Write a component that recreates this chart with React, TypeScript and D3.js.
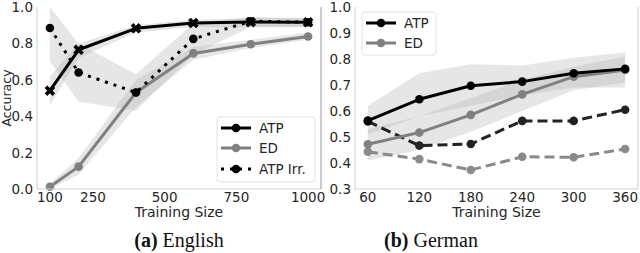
import React from "react";
import * as d3 from "d3";

// English panel data
const enX = [100, 200, 400, 600, 800, 1000];
const enATP = [0.54, 0.765, 0.883, 0.912, 0.917, 0.916];
const enATPLo = [0.46, 0.72, 0.86, 0.89, 0.89, 0.89];
const enATPHi = [0.62, 0.8, 0.9, 0.93, 0.94, 0.94];
const enED = [0.012, 0.123, 0.53, 0.745, 0.795, 0.838];
const enEDLo = [0.0, 0.08, 0.45, 0.71, 0.775, 0.82];
const enEDHi = [0.03, 0.17, 0.6, 0.78, 0.82, 0.86];
const enIrr = [0.885, 0.64, 0.53, 0.825, 0.922, 0.916];
const enIrrLo = [0.7, 0.48, 0.43, 0.74, 0.89, 0.89];
const enIrrHi = [1.0, 0.8, 0.63, 0.91, 0.945, 0.94];
const enXTicks = [100, 250, 500, 750, 1000];
const enYTicks = [0.0, 0.2, 0.4, 0.6, 0.8, 1.0];

// German panel data
const deX = [60, 120, 180, 240, 300, 360];
const deATP = [0.563, 0.645, 0.697, 0.713, 0.745, 0.762];
const deATPLo = [0.51, 0.58, 0.62, 0.66, 0.69, 0.69];
const deATPHi = [0.62, 0.745, 0.78, 0.775, 0.805, 0.825];
const deED = [0.472, 0.517, 0.585, 0.664, 0.732, 0.758];
const deEDLo = [0.41, 0.45, 0.52, 0.6, 0.68, 0.71];
const deEDHi = [0.53, 0.58, 0.65, 0.72, 0.77, 0.81];
const deATPIrr = [0.56, 0.467, 0.473, 0.562, 0.562, 0.605];
const deEDIrr = [0.443, 0.415, 0.373, 0.424, 0.422, 0.454];
const deXTicks = [60, 120, 180, 240, 300, 360];
const deYTicks = [0.3, 0.4, 0.5, 0.6, 0.7, 0.8, 0.9, 1.0];

const FONT = "DejaVu Sans, sans-serif";
const TXT = "#262626";
const BAND = "#b4b4b4";
const BAND_OP = 0.33;
const TICK_FS = 13.5;

type Sc = d3.ScaleLinear<number, number>;

function Band({ xs, lo, hi, x, y }: { xs: number[]; lo: number[]; hi: number[]; x: Sc; y: Sc }) {
  const a = d3
    .area<number>()
    .x((_, i) => x(xs[i]))
    .y0((_, i) => y(lo[i]))
    .y1((_, i) => y(hi[i]));
  return <path d={a(xs) || ""} fill={BAND} fillOpacity={BAND_OP} stroke="none" />;
}

function Line({ xs, ys, x, y, color, width = 3, dash }: { xs: number[]; ys: number[]; x: Sc; y: Sc; color: string; width?: number; dash?: string }) {
  const l = d3
    .line<number>()
    .x((_, i) => x(xs[i]))
    .y((v) => y(v));
  return <path d={l(ys) || ""} fill="none" stroke={color} strokeWidth={width} strokeDasharray={dash} strokeLinejoin="round" />;
}

function Dots({ xs, ys, x, y, color, r = 4.3 }: { xs: number[]; ys: number[]; x: Sc; y: Sc; color: string; r?: number }) {
  return (
    <g>
      {ys.map((v, i) => (
        <circle key={i} cx={x(xs[i])} cy={y(v)} r={r} fill={color} />
      ))}
    </g>
  );
}

function XMarks({ xs, ys, x, y, color }: { xs: number[]; ys: number[]; x: Sc; y: Sc; color: string }) {
  const sym = d3.symbol(d3.symbolCross, 70)();
  return (
    <g>
      {ys.map((v, i) => (
        <path key={i} d={sym || ""} transform={`translate(${x(xs[i])},${y(v)}) rotate(45)`} fill={color} />
      ))}
    </g>
  );
}

function Axes({ x, y, xTicks, yTicks, yFmt, left, right, top, bottom, rightColor }: any) {
  return (
    <g fontFamily={FONT} fill={TXT}>
      <line x1={left} x2={left} y1={top} y2={bottom} stroke="#cfcfcf" strokeWidth={1} />
      <line x1={left} x2={right} y1={bottom} y2={bottom} stroke="#cfcfcf" strokeWidth={1} />
      <line x1={right} x2={right} y1={top} y2={bottom} stroke={rightColor} strokeWidth={1} />
      {xTicks.map((t: number) => (
        <text key={t} x={x(t)} y={201.5} textAnchor="middle" fontSize={TICK_FS}>
          {t}
        </text>
      ))}
      {yTicks.map((t: number) => (
        <text key={t} x={left - 4} y={y(t) + 5} textAnchor="end" fontSize={TICK_FS}>
          {yFmt(t)}
        </text>
      ))}
      <text x={(left + right) / 2} y={216.5} textAnchor="middle" fontSize={14}>
        Training Size
      </text>
    </g>
  );
}

export default function App() {
  const top = 7;
  const bottom = 189;
  // English
  const lL = 37, lR = 321;
  const xE = d3.scaleLinear().domain([55, 1045]).range([lL, lR]);
  const yE = d3.scaleLinear().domain([0, 1]).range([bottom, top]);
  // German
  const rL = 355, rR = 638;
  const xD = d3.scaleLinear().domain([45, 375]).range([rL, rR]);
  const yD = d3.scaleLinear().domain([0.3, 1.0]).range([bottom, top]);
  const fmt = d3.format(".1f");

  return (
    <svg width={640} height={253} style={{ position: "absolute", left: 0, top: 0, background: "#fff" }}>
      <rect width={640} height={253} fill="#fff" />
      {/* English panel */}
      <Band xs={enX} lo={enATPLo} hi={enATPHi} x={xE} y={yE} />
      <Band xs={enX} lo={enEDLo} hi={enEDHi} x={xE} y={yE} />
      <Band xs={enX} lo={enIrrLo} hi={enIrrHi} x={xE} y={yE} />
      <Line xs={enX} ys={enED} x={xE} y={yE} color="#808080" />
      <Dots xs={enX} ys={enED} x={xE} y={yE} color="#808080" />
      <Line xs={enX} ys={enIrr} x={xE} y={yE} color="#000" width={3} dash="3,6" />
      <Dots xs={enX} ys={enIrr} x={xE} y={yE} color="#000" />
      <Line xs={enX} ys={enATP} x={xE} y={yE} color="#000" />
      <XMarks xs={enX} ys={enATP} x={xE} y={yE} color="#000" />
      <Axes x={xE} y={yE} xTicks={enXTicks} yTicks={enYTicks} yFmt={fmt} left={lL} right={lR} top={top} bottom={bottom} rightColor="#999" />
      <text transform={`translate(10.5,98) rotate(-90)`} textAnchor="middle" fontFamily={FONT} fontSize={12.5} fill={TXT}>
        Accuracy
      </text>
      {/* English legend */}
      <g fontFamily={FONT} fontSize={13.5} fill={TXT}>
        <rect x={217} y={117} width={98} height={65} rx={3} fill="#fff" fillOpacity={0.85} stroke="#e2e2e2" />
        <line x1={221} x2={251} y1={128} y2={128} stroke="#000" strokeWidth={3} />
        <circle cx={236} cy={128} r={4.3} fill="#000" />
        <text x={259} y={133}>ATP</text>
        <line x1={221} x2={251} y1={148} y2={148} stroke="#808080" strokeWidth={3} />
        <circle cx={236} cy={148} r={4.3} fill="#808080" />
        <text x={259} y={153}>ED</text>
        <line x1={221} x2={251} y1={169} y2={169} stroke="#000" strokeWidth={3} strokeDasharray="3,6" />
        <circle cx={236} cy={169} r={4.3} fill="#000" />
        <text x={259} y={174}>ATP Irr.</text>
      </g>

      {/* German panel */}
      <Band xs={deX} lo={deATPLo} hi={deATPHi} x={xD} y={yD} />
      <Band xs={deX} lo={deEDLo} hi={deEDHi} x={xD} y={yD} />
      <Line xs={deX} ys={deEDIrr} x={xD} y={yD} color="#8a8a8a" dash="10,5" />
      <Dots xs={deX} ys={deEDIrr} x={xD} y={yD} color="#8a8a8a" />
      <Line xs={deX} ys={deATPIrr} x={xD} y={yD} color="#222" dash="10,5" />
      <Dots xs={deX} ys={deATPIrr} x={xD} y={yD} color="#222" />
      <Line xs={deX} ys={deED} x={xD} y={yD} color="#808080" />
      <Dots xs={deX} ys={deED} x={xD} y={yD} color="#808080" />
      <Line xs={deX} ys={deATP} x={xD} y={yD} color="#000" />
      <Dots xs={deX} ys={deATP} x={xD} y={yD} color="#000" />
      <Axes x={xD} y={yD} xTicks={deXTicks} yTicks={deYTicks} yFmt={fmt} left={rL} right={rR} top={top} bottom={bottom} rightColor="#cfcfcf" />
      {/* German legend */}
      <g fontFamily={FONT} fontSize={13.5} fill={TXT}>
        <rect x={362} y={12} width={74} height={43} rx={3} fill="#fff" fillOpacity={0.85} stroke="#e2e2e2" />
        <line x1={366} x2={396} y1={23} y2={23} stroke="#000" strokeWidth={3} />
        <circle cx={381} cy={23} r={4.3} fill="#000" />
        <text x={404} y={28}>ATP</text>
        <line x1={366} x2={396} y1={43} y2={43} stroke="#808080" strokeWidth={3} />
        <circle cx={381} cy={43} r={4.3} fill="#808080" />
        <text x={404} y={48}>ED</text>
      </g>

      {/* Captions */}
      <text x={179} y={247} textAnchor="middle" fontFamily="Liberation Serif, serif" fontSize={20} fill="#111">
        <tspan fontWeight="bold">(a)</tspan> English
      </text>
      <text x={431} y={247} textAnchor="middle" fontFamily="Liberation Serif, serif" fontSize={20} fill="#111">
        <tspan fontWeight="bold">(b)</tspan> German
      </text>
    </svg>
  );
}
